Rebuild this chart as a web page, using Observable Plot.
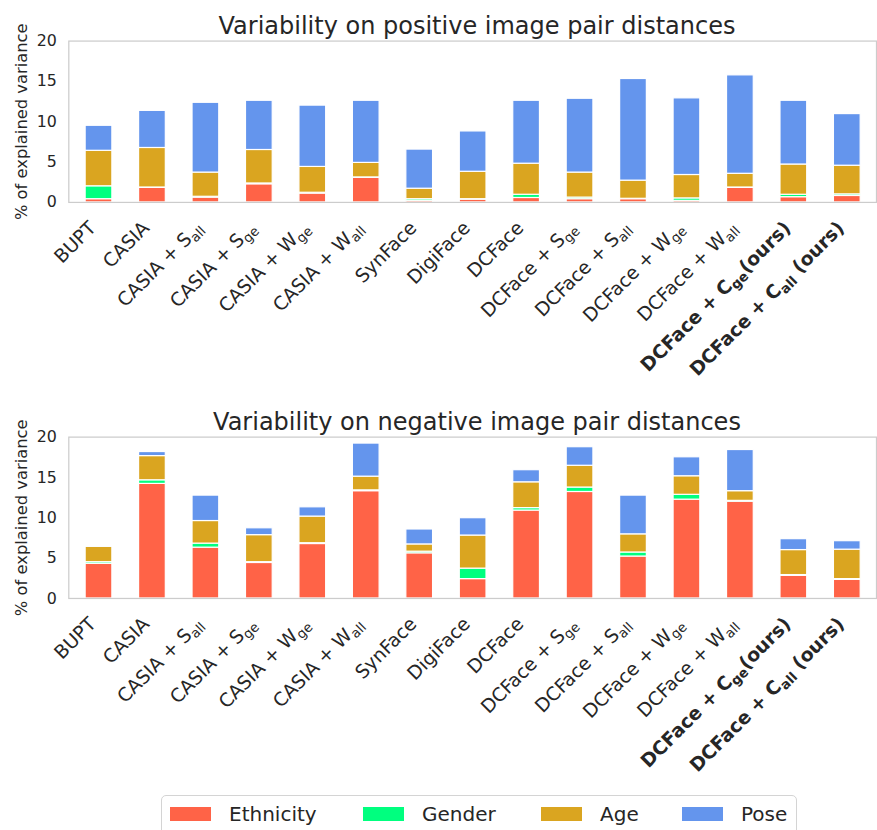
<!DOCTYPE html>
<html><head><meta charset="utf-8">
<script src="https://cdn.jsdelivr.net/npm/d3@7"></script>
<script src="https://cdn.jsdelivr.net/npm/@observablehq/plot@0.6"></script>
<style>
html,body{margin:0;padding:0;background:#fff;}
#wrap{position:relative;width:877px;height:830px;overflow:hidden;font-family:"DejaVu Sans",sans-serif;color:#262626;}
.title{position:absolute;white-space:nowrap;font-size:24px;line-height:24px;transform:translateX(-50%);}
.chart{position:absolute;left:0;}
#legend{position:absolute;left:161px;top:795px;width:636px;height:60px;border:1.3px solid #d4d4d4;border-radius:5px;box-sizing:border-box;font-size:20px;}
.item{position:absolute;top:0;display:flex;align-items:center;height:36px;}
.sw{width:41px;height:14px;margin-right:18px;}
</style></head>
<body><div id="wrap">
<div class="title" id="t1" style="left:477px;top:14px;"></div>
<div class="chart" id="c1" style="top:0px;"></div>
<div class="title" id="t2" style="left:477px;top:410px;"></div>
<div class="chart" id="c2" style="top:400px;"></div>
<div id="legend"></div>
</div>
<script>
// ---- data ----
const datasets = ["BUPT","CASIA","CASIA + S_{all}","CASIA + S_{ge}","CASIA + W_{ge}","CASIA + W_{all}","SynFace","DigiFace","DCFace","DCFace + S_{ge}","DCFace + S_{all}","DCFace + W_{ge}","DCFace + W_{all}","DCFace + C_{ge}(ours)","DCFace + C_{all} (ours)"];
const oursFlags = [false,false,false,false,false,false,false,false,false,false,false,false,false,true,true];
const factors = ["Ethnicity","Gender","Age","Pose"];
const factorColors = ["#ff6347","#00ff7f","#daa520","#6495ed"];
const yTicks = [0,5,10,15,20];

const ethPos  = [0.4, 1.8, 0.6, 2.25, 1.1, 3.05, 0.2, 0.35, 0.55, 0.4, 0.4, 0.2, 1.8, 0.65, 0.8];
const genPos  = [1.6, 0.05, 0.1, 0.1, 0.1, 0.05, 0.2, 0.05, 0.4, 0.2, 0.05, 0.3, 0.05, 0.3, 0.2];
const agePos  = [4.4, 4.9, 3.0, 4.15, 3.2, 1.8, 1.3, 3.4, 3.85, 3.1, 2.25, 2.9, 1.7, 3.75, 3.55];
const posePos = [3.1, 4.6, 8.65, 6.1, 7.6, 7.7, 4.85, 5.0, 7.8, 9.15, 12.6, 9.5, 12.2, 7.9, 6.4];

const ethNeg  = [4.3, 14.2, 6.3, 4.4, 6.75, 13.3, 5.6, 2.4, 10.9, 13.2, 5.2, 12.25, 12.0, 2.8, 2.3];
const genNeg  = [0.2, 0.45, 0.5, 0.1, 0.1, 0.1, 0.2, 1.3, 0.3, 0.55, 0.5, 0.6, 0.1, 0.1, 0.1];
const ageNeg  = [1.9, 3.0, 2.8, 3.35, 3.3, 1.7, 0.9, 4.1, 3.2, 2.7, 2.25, 2.3, 1.2, 3.1, 3.65];
const poseNeg = [0.1, 0.5, 3.15, 0.85, 1.15, 4.1, 1.85, 2.15, 1.5, 2.3, 4.8, 2.35, 5.1, 1.35, 1.05];

const titlePos = "Variability on positive image pair distances";
const titleNeg = "Variability on negative image pair distances";
const yLabel = "% of explained variance";

function toRows(series){
  const rows = [];
  datasets.forEach((d,i)=>{
    factors.forEach((f,j)=>{ rows.push({dataset:d, factor:f, value:series[j][i]}); });
  });
  return rows;
}

function richify(svg){
  d3.select(svg).selectAll("g.xlab text, g.xlabb text").each(function(){
    const s = this.textContent;
    const sel = d3.select(this);
    sel.text(null);
    const parts = s.split(/(_\{[^}]*\})/);
    let shifted = false;
    for (const p of parts){
      if (!p) continue;
      const m = p.match(/^_\{(.*)\}$/);
      if (m){
        sel.append("tspan").attr("font-size","13.5px").attr("dy","4").text(m[1]);
        shifted = true;
      } else {
        const t = sel.append("tspan").text(p);
        if (shifted){ t.attr("dy","-4"); shifted = false; }
      }
    }
  });
}

function makeChart(series, mt, mb, h){
  const rows = toRows(series);
  const normal = datasets.filter((d,i)=>!oursFlags[i]);
  const bold = datasets.filter((d,i)=>oursFlags[i]);
  const chart = Plot.plot({
    width: 886, height: h,
    marginTop: mt, marginBottom: mb, marginLeft: 69, marginRight: 1,
    style: {fontFamily: "DejaVu Sans", color: "#262626", background: "transparent", fontSize: "16px"},
    x: {domain: datasets, paddingInner: 0.5, paddingOuter: 0.25, axis: null},
    y: {domain: [0,20]},
    color: {domain: factors, range: factorColors},
    marks: [
      Plot.barY(rows, {x:"dataset", y:"value", fill:"factor", stroke:"white", strokeWidth:1.2}),
      Plot.axisY({ticks: yTicks, tickSize:0, tickPadding:12, fontSize:16, label: null}),
      Plot.text([yLabel], {text:d=>d, frameAnchor:"left", rotate:-90, textAnchor:"middle", lineAnchor:"top", dx:-54, fontSize:16.5, fill:"#262626"}),
      Plot.text(normal, {x:d=>d, text:d=>d, frameAnchor:"bottom", rotate:-45, textAnchor:"end", lineAnchor:"bottom", dx:-2, dy:27, fontSize:19, fill:"#262626", className:"xlab"}),
      Plot.text(bold, {x:d=>d, text:d=>d, frameAnchor:"bottom", rotate:-45, textAnchor:"end", lineAnchor:"bottom", dx:-2, dy:27, fontSize:19, fontWeight:"bold", fill:"#262626", className:"xlabb"}),
      Plot.frame({stroke:"#cccccc", strokeWidth:1.25})
    ]
  });
  richify(chart);
  return chart;
}

document.getElementById("t1").textContent = titlePos;
document.getElementById("t2").textContent = titleNeg;
document.getElementById("c1").appendChild(makeChart([ethPos,genPos,agePos,posePos], 41, 196, 400));
document.getElementById("c2").appendChild(makeChart([ethNeg,genNeg,ageNeg,poseNeg], 37, 190, 390));

// legend
const legend = document.getElementById("legend");
const lefts = [8, 201, 379, 520];
factors.forEach((f,i)=>{
  const it = document.createElement("div");
  it.className = "item";
  it.style.left = lefts[i] + "px";
  const sw = document.createElement("div");
  sw.className = "sw"; sw.style.background = factorColors[i];
  const tx = document.createElement("span"); tx.textContent = f;
  it.appendChild(sw); it.appendChild(tx);
  legend.appendChild(it);
});
</script>
</body></html>
